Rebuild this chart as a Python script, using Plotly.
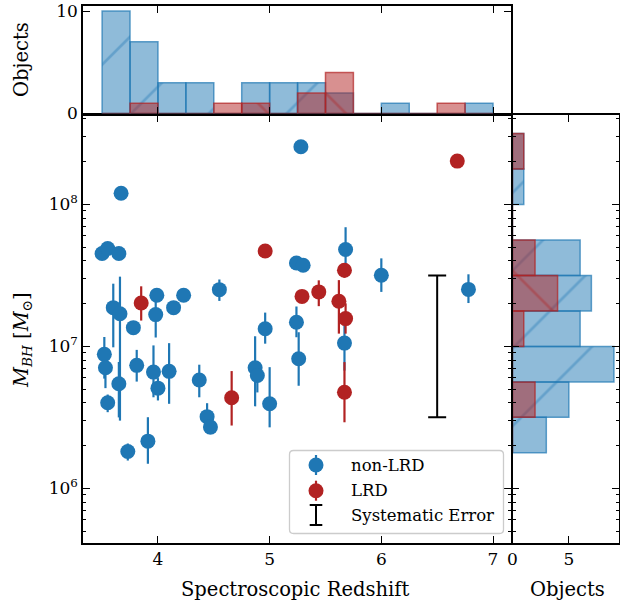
import numpy as np
import plotly.graph_objects as go

# ---------------- data ----------------
blue_z = [3.67, 5.28, 3.50, 3.55, 3.65, 5.24, 5.30, 3.99, 3.98, 3.60, 3.66, 3.78, 4.14, 4.23, 4.55,
          4.96, 5.24, 5.68, 6.00, 6.78, 5.67, 4.87, 4.89, 5.00, 5.26, 3.52, 3.53, 3.55, 3.65, 3.81,
          3.96, 4.00, 4.10, 3.73, 3.91, 4.37, 4.44, 4.47]
blue_m = [1.20e8, 2.55e8, 4.51e7, 4.89e7, 4.51e7, 3.87e7, 3.73e7, 2.29e7, 1.675e7, 1.875e7, 1.70e7,
          1.355e7, 1.875e7, 2.29e7, 2.51e7, 1.33e7, 1.48e7, 4.81e7, 3.17e7, 2.52e7, 1.055e7, 7.08e6,
          6.24e6, 3.94e6, 8.18e6, 8.79e6, 7.08e6, 4.01e6, 5.46e6, 7.35e6, 6.59e6, 5.08e6, 6.67e6,
          1.82e6, 2.15e6, 5.80e6, 3.20e6, 2.70e6]
blue_err_up = [3e6, 5e6, 3.4e6, 2e6, 2e6, 2e6, 2e6, 2e6, 5.2e6, 8.9e6, 1.4e7, 1.5e6, 1.5e6, 1.5e6, 4.5e6,
               4.0e6, 4.3e6, 2.1e7, 1.0e7, 7e6, 3.9e6, 4.7e6, 1.5e6, 3.2e6, 4.4e6, 2.86e6, 2e6, 0.57e6,
               2.3e6, 2.1e6, 3.57e6, 0.9e6, 3.87e6, 0.25e6, 1.02e6, 1.63e6, 0.78e6, 0.3e6]
blue_err_lo = [3e6, 5e6, 3.4e6, 2e6, 2e6, 2e6, 2e6, 2e6, 5.2e6, 8.9e6, 1.4e7, 1.5e6, 1.5e6, 1.5e6, 4.2e6,
               2.85e6, 3.2e6, 1.2e7, 7.5e6, 5e6, 3.8e6, 3.3e6, 1.5e6, 1.25e6, 2.9e6, 2.86e6, 2e6, 0.57e6,
               2.3e6, 1.7e6, 2.21e6, 0.92e6, 2.73e6, 0.25e6, 0.66e6, 1.42e6, 0.6e6, 0.3e6]

red_z = [3.85, 4.96, 6.68, 5.29, 5.67, 5.44, 5.62, 5.68, 5.67, 4.66]
red_m = [2.02e7, 4.70e7, 2.02e8, 2.25e7, 3.44e7, 2.42e7, 2.08e7, 1.57e7, 4.75e6, 4.35e6]
red_err_up = [6.3e6, 2e6, 1e7, 2e6, 4e6, 5e6, 8.5e6, 4.4e6, 3.0e6, 2.35e6]
red_err_lo = [5.0e6, 2e6, 1e7, 2e6, 4e6, 5e6, 8.5e6, 3.4e6, 1.83e6, 1.58e6]

sys_z = [6.5]
sys_m = [1e7]
sys_dex = 0.5

# redshift histogram (top)
z_bin_left = [3.5, 3.75, 4.0, 4.25, 4.5, 4.75, 5.0, 5.25, 5.5, 5.75, 6.0, 6.25, 6.5, 6.75]
z_bin_width = 0.25
blue_z_counts = [10, 7, 3, 3, 0, 3, 3, 3, 2, 0, 1, 0, 0, 1]
red_z_counts = [0, 1, 0, 0, 1, 1, 0, 2, 4, 0, 0, 0, 1, 0]

# log mass histogram (right)
logm_bin_low = [6.25, 6.5, 6.75, 7.0, 7.25, 7.5, 7.75, 8.0, 8.25]
logm_bin_width = 0.25
blue_m_counts = [3, 5, 9, 6, 7, 6, 0, 1, 1]
red_m_counts = [0, 2, 0, 1, 4, 2, 0, 0, 1]

x_ticks = [4, 5, 6, 7]
y_ticks = [1e6, 1e7, 1e8]
y_ticktext = ["10<sup>6</sup>", "10<sup>7</sup>", "10<sup>8</sup>"]

# ---------------- style ----------------
W, H = 620, 603
FONT = "DejaVu Serif"
BLUE = "#1f77b4"
RED = "#b22222"
LW = 1.5


def px(x):
    return x / W


def py(y):
    return 1 - y / H


X_RANGE = [3.329, 7.161]
LOG_RANGE = [5.615, 8.63]
main_x_dom = [px(83), px(511)]
main_y_dom = [py(543), py(115)]
top_y_dom = [py(115 - LW), py(6)]
right_x_dom = [px(511 + LW), px(619)]

minor_vals = [k * 10 ** e for e in range(5, 9) for k in range(2, 10)]
minor_log = [float(np.log10(v)) for v in minor_vals]

fig = go.Figure()


def hist_marker(rgb, shape):
    return dict(color=f"rgba({rgb},0.5)",
                line=dict(color=f"rgba({rgb},0.7)", width=1.5),
                pattern=dict(shape=shape, fgcolor=f"rgba({rgb},0.75)", size=55,
                             solidity=0.05, fillmode="overlay"))


# top histogram
fig.add_trace(go.Bar(x=z_bin_left, y=blue_z_counts, width=z_bin_width, offset=0,
                     marker=hist_marker("31,119,180", "/"),
                     xaxis="x2", yaxis="y2", showlegend=False, hoverinfo="skip"))
fig.add_trace(go.Bar(x=z_bin_left, y=red_z_counts, width=z_bin_width, offset=0,
                     marker=hist_marker("178,34,34", "\\"),
                     xaxis="x2", yaxis="y2", showlegend=False, hoverinfo="skip"))

# right histogram
fig.add_trace(go.Bar(y=logm_bin_low, x=blue_m_counts, width=logm_bin_width, offset=0, orientation="h",
                     marker=hist_marker("31,119,180", "/"),
                     xaxis="x3", yaxis="y3", showlegend=False, hoverinfo="skip"))
fig.add_trace(go.Bar(y=logm_bin_low, x=red_m_counts, width=logm_bin_width, offset=0, orientation="h",
                     marker=hist_marker("178,34,34", "\\"),
                     xaxis="x3", yaxis="y3", showlegend=False, hoverinfo="skip"))

# main scatter
fig.add_trace(go.Scatter(x=blue_z, y=blue_m, mode="markers",
                         marker=dict(size=15, color=BLUE),
                         error_y=dict(type="data", symmetric=False, array=blue_err_up,
                                      arrayminus=blue_err_lo, color=BLUE, thickness=2.2, width=0),
                         xaxis="x", yaxis="y", showlegend=False))
fig.add_trace(go.Scatter(x=red_z, y=red_m, mode="markers",
                         marker=dict(size=15, color=RED),
                         error_y=dict(type="data", symmetric=False, array=red_err_up,
                                      arrayminus=red_err_lo, color=RED, thickness=2.2, width=0),
                         xaxis="x", yaxis="y", showlegend=False))
sys_up = [m * (10 ** sys_dex - 1) for m in sys_m]
sys_lo = [m * (1 - 10 ** -sys_dex) for m in sys_m]
fig.add_trace(go.Scatter(x=sys_z, y=sys_m, mode="markers",
                         marker=dict(size=1, color="rgba(0,0,0,0)"),
                         error_y=dict(type="data", symmetric=False, array=sys_up, arrayminus=sys_lo,
                                      color="black", thickness=2, width=9),
                         xaxis="x", yaxis="y", showlegend=False))

common = dict(showline=True, linecolor="black", linewidth=LW, mirror="ticks", ticks="inside",
              ticklen=7, tickwidth=1.2, tickcolor="black", showgrid=False, zeroline=False,
              tickfont=dict(family=FONT, size=17, color="black"), automargin=False)
minor_main = dict(tickvals=minor_vals, ticks="inside", ticklen=3.5, tickwidth=1, tickcolor="black",
                  showgrid=False)
minor_right = dict(tickvals=minor_log, ticks="inside", ticklen=3.5, tickwidth=1, tickcolor="black",
                   showgrid=False)

fig.update_layout(
    width=W, height=H, margin=dict(l=0, r=0, t=0, b=0),
    paper_bgcolor="white", plot_bgcolor="white", barmode="overlay", showlegend=False,
    xaxis=dict(common, domain=main_x_dom, range=X_RANGE, tickmode="array", tickvals=x_ticks,
               anchor="y"),
    yaxis=dict(common, domain=main_y_dom, type="log", range=LOG_RANGE, tickmode="array",
               tickvals=y_ticks, ticktext=y_ticktext, minor=minor_main, anchor="x"),
    xaxis2=dict(common, domain=main_x_dom, range=X_RANGE, matches="x", tickmode="array",
                tickvals=x_ticks, showticklabels=False, anchor="y2"),
    yaxis2=dict(common, domain=top_y_dom, range=[0, 10.5], tickmode="array", tickvals=[0, 10],
                anchor="x2"),
    xaxis3=dict(common, domain=right_x_dom, range=[0, 9.45], tickmode="array", tickvals=[0, 5],
                anchor="y3"),
    yaxis3=dict(common, domain=main_y_dom, range=LOG_RANGE, tickmode="array", tickvals=[6, 7, 8],
                showticklabels=False, minor=minor_right, anchor="x3"),
)

# axis titles
ann = [
    dict(text="Spectroscopic Redshift", x=px(295), y=py(589)),
    dict(text="Objects", x=px(567), y=py(589)),
    dict(text="<i>M</i><sub><i>BH</i></sub> [<i>M</i><sub>⊙</sub>]", x=px(22), y=py(340), textangle=-90),
    dict(text="Objects", x=px(22), y=py(60), textangle=-90),
]
for a in ann:
    fig.add_annotation(xref="paper", yref="paper", showarrow=False, xanchor="center", yanchor="middle",
                       font=dict(family=FONT, size=19.5, color="black"), **a)

# legend (drawn manually)
x0, x1, y0, y1, r = 289.5, 503.5, 450.5, 533.5, 4
path = (f"M {px(x0 + r)} {py(y0)} L {px(x1 - r)} {py(y0)} Q {px(x1)} {py(y0)} {px(x1)} {py(y0 + r)} "
        f"L {px(x1)} {py(y1 - r)} Q {px(x1)} {py(y1)} {px(x1 - r)} {py(y1)} "
        f"L {px(x0 + r)} {py(y1)} Q {px(x0)} {py(y1)} {px(x0)} {py(y1 - r)} "
        f"L {px(x0)} {py(y0 + r)} Q {px(x0)} {py(y0)} {px(x0 + r)} {py(y0)} Z")
fig.add_shape(type="path", path=path, xref="paper", yref="paper",
              line=dict(color="#cccccc", width=1.3), fillcolor="rgba(255,255,255,0.8)")
mx = 316
for yc, col in [(465, BLUE), (490.7, RED)]:
    fig.add_shape(type="line", xref="paper", yref="paper", x0=px(mx), x1=px(mx), y0=py(yc - 10),
                  y1=py(yc + 10), line=dict(color=col, width=2.2))
    fig.add_shape(type="circle", xref="paper", yref="paper", x0=px(mx - 7.5), x1=px(mx + 7.5),
                  y0=py(yc + 7.5), y1=py(yc - 7.5), fillcolor=col, line=dict(width=0))
fig.add_shape(type="line", xref="paper", yref="paper", x0=px(mx), x1=px(mx), y0=py(505), y1=py(525),
              line=dict(color="black", width=2))
for yy in (505, 525):
    fig.add_shape(type="line", xref="paper", yref="paper", x0=px(mx - 6.3), x1=px(mx + 6.3), y0=py(yy),
                  y1=py(yy), line=dict(color="black", width=2))
for yc, t in [(465, "non-LRD"), (490.7, "LRD"), (515, "Systematic Error")]:
    fig.add_annotation(xref="paper", yref="paper", x=px(349), y=py(yc), text=t, showarrow=False,
                       xanchor="left", yanchor="middle", font=dict(family=FONT, size=16.5, color="black"))

fig.write_html("out.html", config={"displayModeBar": False},
               post_script="document.body.style.margin='0';document.body.style.overflow='hidden';")
